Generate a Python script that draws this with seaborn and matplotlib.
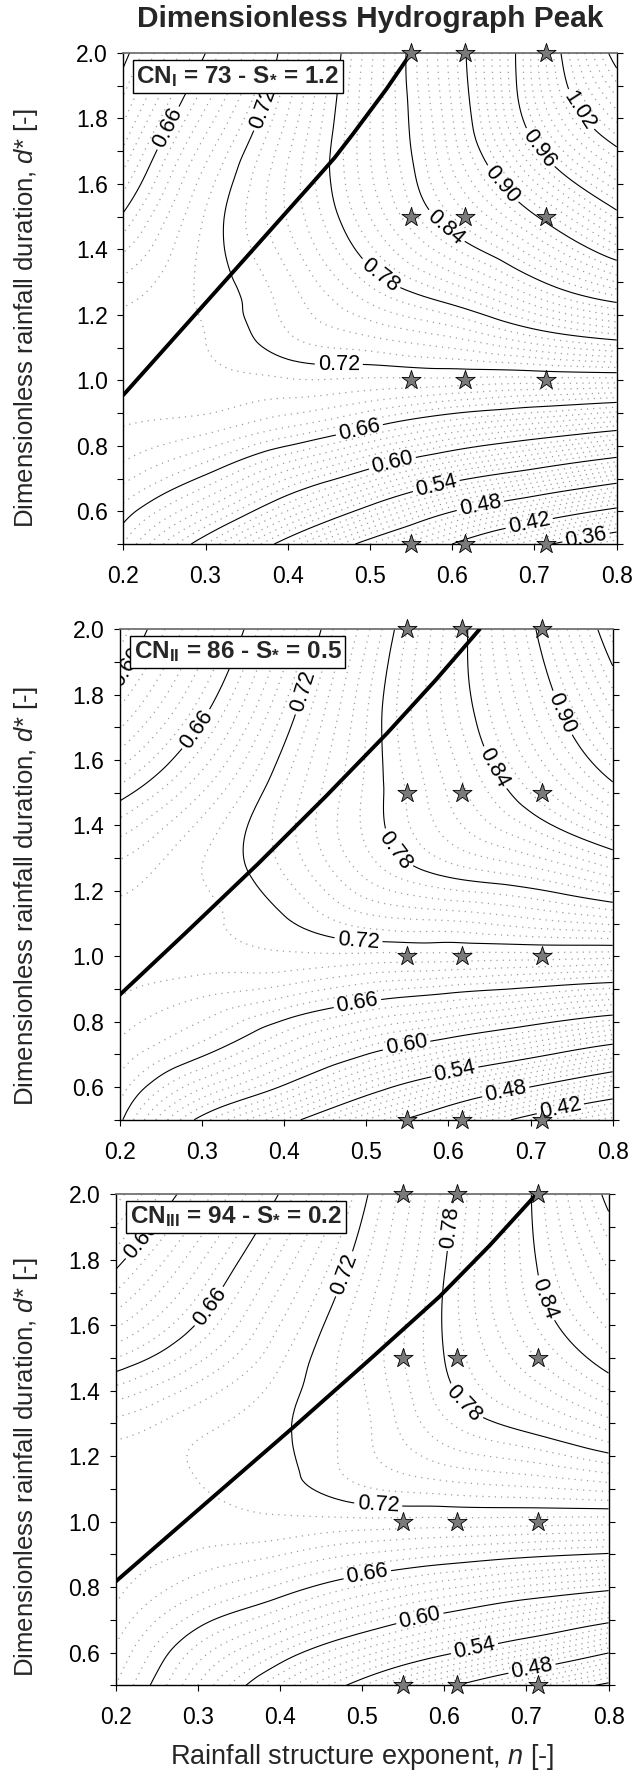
import numpy as np
import matplotlib
matplotlib.use("Agg")
import matplotlib.pyplot as plt
import matplotlib.tri as mtri
from matplotlib.ticker import MultipleLocator, FormatStrFormatter
import seaborn as sns

# ---------------- data ----------------
N_GRID = [0.2, 0.3, 0.4, 0.5, 0.6, 0.7, 0.8]
D_GRID = [0.5, 0.625, 0.75, 0.875, 1.0, 1.125, 1.25, 1.5, 1.75, 2.0]

# rows follow D_GRID, columns follow N_GRID
PEAK_CN_I = [
    [0.650, 0.590, 0.530, 0.470, 0.420, 0.370, 0.330],
    [0.670, 0.635, 0.590, 0.544, 0.497, 0.464, 0.432],
    [0.690, 0.670, 0.640, 0.610, 0.579, 0.554, 0.529],
    [0.701, 0.697, 0.685, 0.668, 0.648, 0.634, 0.620],
    [0.705, 0.708, 0.709, 0.708, 0.707, 0.705, 0.705],
    [0.703, 0.710, 0.728, 0.738, 0.748, 0.766, 0.781],
    [0.698, 0.712, 0.735, 0.763, 0.786, 0.818, 0.846],
    [0.662, 0.711, 0.751, 0.800, 0.850, 0.898, 0.953],
    [0.625, 0.690, 0.745, 0.810, 0.877, 0.965, 1.030],
    [0.595, 0.660, 0.729, 0.807, 0.885, 0.985, 1.090],
]
PEAK_CN_II = [
    [0.663, 0.595, 0.550, 0.500, 0.455, 0.410, 0.375],
    [0.678, 0.640, 0.607, 0.566, 0.529, 0.497, 0.464],
    [0.690, 0.672, 0.645, 0.620, 0.600, 0.578, 0.553],
    [0.700, 0.690, 0.680, 0.665, 0.655, 0.645, 0.634],
    [0.704, 0.706, 0.708, 0.707, 0.706, 0.705, 0.703],
    [0.703, 0.708, 0.720, 0.739, 0.745, 0.753, 0.763],
    [0.695, 0.710, 0.730, 0.762, 0.782, 0.793, 0.813],
    [0.655, 0.690, 0.731, 0.772, 0.811, 0.850, 0.892],
    [0.612, 0.656, 0.711, 0.769, 0.824, 0.878, 0.940],
    [0.585, 0.632, 0.690, 0.757, 0.824, 0.895, 0.975],
]
PEAK_CN_III = [
    [0.680, 0.630, 0.579, 0.531, 0.486, 0.447, 0.415],
    [0.690, 0.650, 0.618, 0.586, 0.557, 0.529, 0.497],
    [0.700, 0.675, 0.655, 0.632, 0.612, 0.594, 0.577],
    [0.705, 0.695, 0.685, 0.672, 0.662, 0.653, 0.646],
    [0.706, 0.707, 0.708, 0.707, 0.706, 0.705, 0.704],
    [0.705, 0.710, 0.716, 0.732, 0.740, 0.745, 0.752],
    [0.700, 0.710, 0.718, 0.737, 0.762, 0.775, 0.792],
    [0.650, 0.677, 0.708, 0.740, 0.780, 0.816, 0.848],
    [0.603, 0.643, 0.687, 0.730, 0.780, 0.833, 0.878],
    [0.565, 0.612, 0.661, 0.716, 0.773, 0.836, 0.906],
]
FIELDS = [PEAK_CN_I, PEAK_CN_II, PEAK_CN_III]

# thick black curve in every panel
CURVE_N = [[0.2, 0.26, 0.319, 0.38, 0.43, 0.457, 0.48, 0.52, 0.55],
           [0.2, 0.28, 0.368, 0.45, 0.525, 0.585, 0.638],
           [0.2, 0.31, 0.417, 0.51, 0.594, 0.655, 0.712]]
CURVE_D = [[0.955, 1.124, 1.29, 1.462, 1.603, 1.68, 1.755, 1.89, 2.0],
           [0.882, 1.071, 1.282, 1.487, 1.681, 1.846, 2.0],
           [0.817, 1.057, 1.29, 1.497, 1.687, 1.843, 2.0]]

STAR_N = [0.55, 0.616, 0.714]
STAR_D = [0.5, 1.0, 1.5, 2.0]

PANEL_TEXT = [r"CN$_{\mathbf{I}}$ = 73 - S$_{\mathbf{*}}$ = 1.2",
              r"CN$_{\mathbf{II}}$ = 86 - S$_{\mathbf{*}}$ = 0.5",
              r"CN$_{\mathbf{III}}$ = 94 - S$_{\mathbf{*}}$ = 0.2"]

MAJOR_LEVELS = [0.36, 0.42, 0.48, 0.54, 0.60, 0.66, 0.72, 0.78, 0.84,
                0.90, 0.96, 1.02, 1.08]

TITLE = "Dimensionless Hydrograph Peak"
YLABEL = r"Dimensionless rainfall duration, $\mathit{d}$* [-]"
XLABEL = r"Rainfall structure exponent, $\mathit{n}$ [-]"

# label anchor points (layout only)
LABEL_POS = [
    [(0.266, 1.756), (0.374, 1.827), (0.756, 1.827), (0.709, 1.715),
     (0.658, 1.593), (0.589, 1.46), (0.511, 1.318), (0.462, 1.054),
     (0.486, 0.861), (0.528, 0.739), (0.582, 0.663), (0.636, 0.592),
     (0.695, 0.546), (0.763, 0.515)],
    [(0.216, 1.875), (0.29, 1.70), (0.43, 1.804), (0.727, 1.732),
     (0.65, 1.568), (0.56, 1.374), (0.491, 1.065), (0.491, 0.831),
     (0.55, 0.715), (0.609, 0.633), (0.67, 0.583), (0.736, 0.537)],
    [(0.236, 1.85), (0.314, 1.657), (0.476, 1.759), (0.606, 1.90),
     (0.717, 1.677), (0.633, 1.382), (0.52, 1.076), (0.508, 0.812),
     (0.572, 0.684), (0.638, 0.598), (0.707, 0.547)],
]

# ---------------- style ----------------
sns.set_theme(style="white")
plt.rcParams["font.family"] = ["Liberation Sans", "DejaVu Sans"]
plt.rcParams["mathtext.fontset"] = "custom"
plt.rcParams["mathtext.rm"] = "Liberation Sans"
plt.rcParams["mathtext.it"] = "Liberation Sans:italic"
plt.rcParams["mathtext.bf"] = "Liberation Sans:bold"

W, H = 632, 1771
fig = plt.figure(figsize=(W / 100, H / 100), dpi=100)
fig.patch.set_facecolor("white")

# panel boxes in pixels: left, top, right, bottom
BOXES = [(123.3, 53, 616.7, 544), (119.7, 629.3, 612.7, 1119.8),
         (115.7, 1194.3, 608.6, 1685.3)]
# legend box top-left corners in pixels
TAG_XY = [(132.5, 60.0), (129.8, 635.5), (125.8, 1200.7)]
YLABEL_Y = [0.46, 0.455, 0.445]

all_levels = np.round(np.arange(30, 113) / 100.0, 2)
major_set = set(np.round(MAJOR_LEVELS, 2))
minor_levels = [l for l in all_levels if l not in major_set]

Xg, Yg = np.meshgrid(np.array(N_GRID), np.array(D_GRID))
TAG_FS = 17.5
TAG_PAD = 0.16

for i, (l, t, r, b) in enumerate(BOXES):
    ax = fig.add_axes([l / W, 1 - b / H, (r - l) / W, (b - t) / H])
    z = np.array(FIELDS[i]).ravel()
    tri = mtri.Triangulation(Xg.ravel(), Yg.ravel())
    interp = mtri.CubicTriInterpolator(tri, z, kind="min_E")
    refiner = mtri.UniformTriRefiner(tri)
    tri_f, z_f = refiner.refine_field(z, triinterpolator=interp, subdiv=4)

    cs_min = ax.tricontour(tri_f, z_f, levels=minor_levels, colors="#9d9d9d",
                           linewidths=0.9)
    cs_min.set_linestyle((0, (1, 4)))
    cs_maj = ax.tricontour(tri_f, z_f, levels=MAJOR_LEVELS, colors="black",
                           linewidths=0.8)
    ax.clabel(cs_maj, fmt="%.2f", fontsize=15.5, inline=True,
              inline_spacing=3, manual=LABEL_POS[i])

    sns.lineplot(x=CURVE_N[i], y=CURVE_D[i], ax=ax, color="black",
                 linewidth=2.8, sort=False, estimator=None, zorder=5)

    sn = [n for d in STAR_D for n in STAR_N]
    sd = [d for d in STAR_D for n in STAR_N]
    sns.scatterplot(x=sn, y=sd, ax=ax, marker="*", s=210, color="#7a7a7a",
                    edgecolor="black", linewidth=0.6, zorder=10, clip_on=False)

    ax.set_xlim(0.2, 0.8)
    ax.set_ylim(0.5, 2.0)
    ax.xaxis.set_major_locator(MultipleLocator(0.1))
    ax.xaxis.set_major_formatter(FormatStrFormatter("%.1f"))
    ax.yaxis.set_major_locator(MultipleLocator(0.2))
    ax.yaxis.set_major_formatter(FormatStrFormatter("%.1f"))
    ax.yaxis.set_minor_locator(MultipleLocator(0.1))
    ax.tick_params(axis="both", which="both", direction="out", colors="black",
                   labelsize=16.5, length=4, width=0.8)
    ax.tick_params(axis="y", which="both", left=True, right=True, pad=7)
    ax.tick_params(axis="x", which="both", bottom=True, top=False, pad=11)
    for side in ["left", "right", "bottom"]:
        ax.spines[side].set_color("black")
        ax.spines[side].set_linewidth(1.0)
    ax.spines["top"].set_color("#666666")
    ax.spines["top"].set_linewidth(1.2)

    pad_px = TAG_PAD * TAG_FS * 100 / 72
    tx, ty = TAG_XY[i]
    ax.text((tx + pad_px - l) / (r - l), 1 - (ty + pad_px - t) / (b - t),
            PANEL_TEXT[i], transform=ax.transAxes, fontsize=TAG_FS,
            fontweight="bold", va="top", ha="left", zorder=20,
            bbox=dict(boxstyle="square,pad=%g" % TAG_PAD, facecolor="white",
                      edgecolor="black", linewidth=1.0))

    ax.set_ylabel(YLABEL, fontsize=18.5)
    ax.yaxis.set_label_coords(-(l - 40) / (r - l), YLABEL_Y[i])
    if i == 2:
        ax.set_xlabel(XLABEL, fontsize=19.5, labelpad=9)
    else:
        ax.set_xlabel("")

fig.text(370 / W, 1 - 19 / H, TITLE, fontsize=21.5, fontweight="bold",
         ha="center", va="center")

fig.savefig("out.png", dpi=100, facecolor="white")
